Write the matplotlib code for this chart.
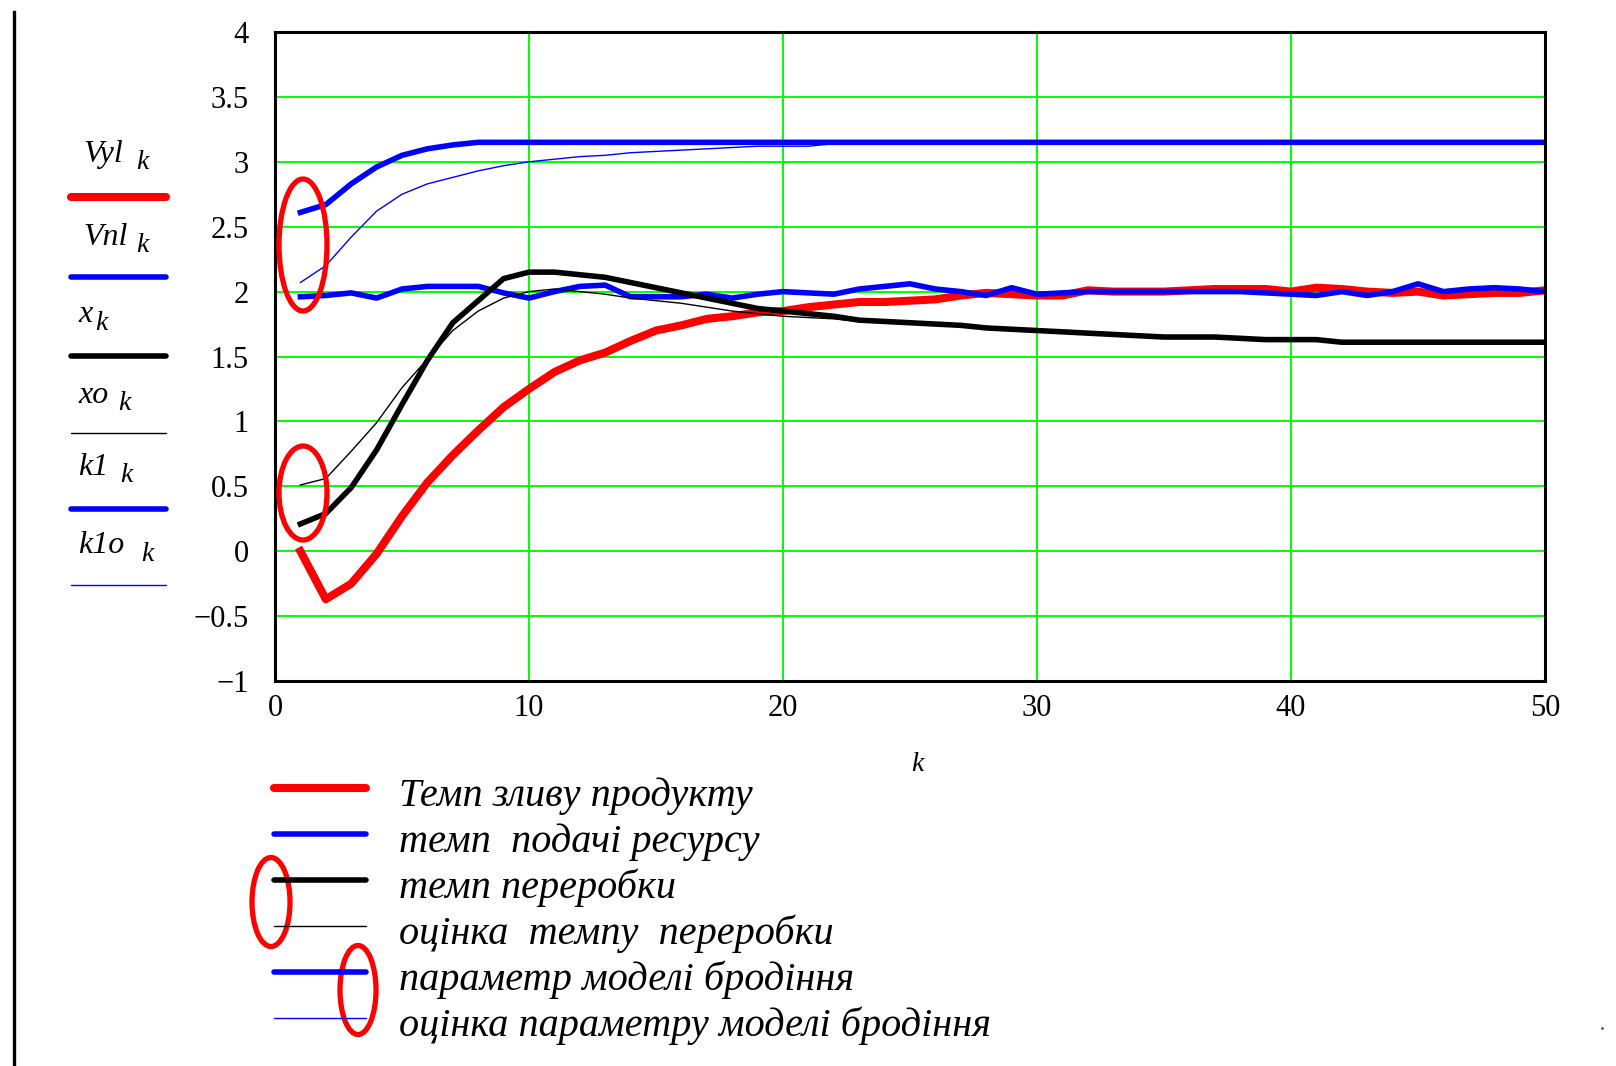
#Mathcad-style chart: product drain rate, resource feed rate, processing rate and fermentation model parameter
#values are read off the reference picture, one value per step k = 1..50
import matplotlib.pyplot as plt
from matplotlib.patches import Ellipse

plt.rcParams['font.family'] = ['Liberation Serif', 'DejaVu Serif']

k = list(range(1, 51))

# Темп зливу продукту
vyl = [0.0, -0.37, -0.25, -0.02, 0.27, 0.53, 0.74, 0.93, 1.11, 1.25,
       1.38, 1.47, 1.53, 1.62, 1.70, 1.74, 1.79, 1.81, 1.84, 1.85,
       1.88, 1.90, 1.92, 1.92, 1.93, 1.94, 1.97, 1.99, 1.98, 1.97,
       1.97, 2.01, 2.00, 2.00, 2.00, 2.01, 2.02, 2.02, 2.02, 2.00,
       2.03, 2.02, 2.00, 1.99, 2.00, 1.97, 1.98, 1.99, 1.99, 2.01]
# темп подачі ресурсу
vnl = [1.96, 1.97, 1.99, 1.95, 2.02, 2.04, 2.04, 2.04, 1.99, 1.95,
       2.00, 2.04, 2.05, 1.96, 1.96, 1.96, 1.98, 1.95, 1.98, 2.00,
       1.99, 1.98, 2.02, 2.04, 2.06, 2.02, 2.00, 1.97, 2.03, 1.98,
       1.99, 2.00, 2.00, 2.00, 2.00, 2.00, 2.00, 2.00, 1.99, 1.98,
       1.97, 2.00, 1.97, 2.00, 2.06, 2.00, 2.02, 2.03, 2.02, 2.00]
# темп переробки
x = [0.21, 0.29, 0.49, 0.78, 1.13, 1.47, 1.76, 1.93, 2.10, 2.15,
     2.15, 2.13, 2.11, 2.07, 2.03, 1.99, 1.95, 1.91, 1.87, 1.85,
     1.83, 1.81, 1.78, 1.77, 1.76, 1.75, 1.74, 1.72, 1.71, 1.70,
     1.69, 1.68, 1.67, 1.66, 1.65, 1.65, 1.65, 1.64, 1.63, 1.63,
     1.63, 1.61, 1.61, 1.61, 1.61, 1.61, 1.61, 1.61, 1.61, 1.61]
# оцінка темпу переробки
xo = [0.51, 0.56, 0.77, 0.99, 1.26, 1.48, 1.70, 1.85, 1.95, 2.00,
      2.02, 2.00, 1.98, 1.95, 1.93, 1.91, 1.88, 1.85, 1.83, 1.81,
      1.80, 1.79, 1.77, 1.76, 1.76, 1.75, 1.74, 1.72, 1.71, 1.70,
      1.69, 1.68, 1.67, 1.66, 1.65, 1.65, 1.65, 1.64, 1.63, 1.63,
      1.63, 1.61, 1.61, 1.61, 1.61, 1.61, 1.61, 1.61, 1.61, 1.61]
# параметр моделі бродіння
k1 = [2.61, 2.67, 2.83, 2.96, 3.05, 3.10, 3.13] + [3.15] * 43
# оцінка параметру моделі бродіння
k1o = [2.07, 2.20, 2.42, 2.62, 2.75, 2.83, 2.88, 2.93, 2.97, 3.00,
       3.02, 3.04, 3.05, 3.07, 3.08, 3.09, 3.10, 3.11, 3.12, 3.12,
       3.12, 3.14, 3.14, 3.14, 3.14, 3.14, 3.14, 3.14] + [3.15] * 22

y_ticks = [-1, -0.5, 0, 0.5, 1, 1.5, 2, 2.5, 3, 3.5, 4]
y_labels = ['\u22121', '\u22120.5', '0', '0.5', '1', '1.5', '2', '2.5', '3', '3.5', '4']
x_ticks = [0, 10, 20, 30, 40, 50]

trace_names = ['Vyl', 'Vnl', 'x', 'xo', 'k1', 'k1o']
legend_text = ['Темп зливу продукту', 'темп  подачі ресурсу', 'темп переробки',
               'оцінка  темпу  переробки', 'параметр моделі бродіння',
               'оцінка параметру моделі бродіння']

# colour, line width for each trace (same order as trace_names)
styles = [('#ff0000', 5.8), ('#0000ff', 4.0), ('black', 4.0),
          ('black', 1.0), ('#0000ff', 4.0), ('#0000ff', 1.0)]
series = [vyl, vnl, x, xo, k1, k1o]
zorders = [2, 3, 4, 3.5, 3, 2.5]

W, H = 1616, 1066
fig = plt.figure(figsize=(W / 100, H / 100), dpi=100)
ax = fig.add_axes([275 / W, 1 - 681 / H, (1545 - 275) / W, (681 - 32) / H])

for s, (c, lw), z in zip(series, styles, zorders):
    ax.plot(k, s, color=c, lw=lw, zorder=z, solid_joinstyle='round')

ax.set_xlim(0, 50)
ax.set_ylim(-1, 4)
ax.set_yticks(y_ticks)
ax.set_yticklabels(y_labels)
ax.set_xticks(x_ticks)
ax.tick_params(length=0, labelsize=22)
ax.tick_params(axis='y', pad=19)
ax.tick_params(axis='x', pad=9)
ax.grid(True, color='#00ff00', lw=1.4)
ax.set_axisbelow(True)
for sp in ax.spines.values():
    sp.set_linewidth(2.2)
    sp.set_zorder(5)

# overlay in pixel coordinates for the Mathcad legends and the red marks
ov = fig.add_axes([0, 0, 1, 1])
ov.set_xlim(0, W)
ov.set_ylim(H, 0)
ov.axis('off')
ov.patch.set_alpha(0)

ov.plot([14, 14], [12, H], color='black', lw=2.4)
ov.plot([1602], [1028], marker='.', color='#555555', ms=2)
ov.text(917, 771, 'k', fontsize=20, style='italic', ha='center')

# left legend: trace name with subscript k, line under it
name_pos = [(83, 162, 136, 169), (83, 245, 136, 252), (78, 322, 95, 330),
            (78, 403, 118, 410), (78, 475, 120, 482), (78, 553, 141, 561)]
line_y = [197, 277, 356, 433, 509, 585]
for nm, (tx, ty, sx, sy), ly, (c, lw) in zip(trace_names, name_pos, line_y, styles):
    ov.text(tx, ty, nm, fontsize=23, style='italic', va='baseline')
    ov.text(sx, sy, 'k', fontsize=20, style='italic', va='baseline')
    ov.plot([71, 166], [ly, ly], color=c, lw=lw, solid_capstyle='round')

# bottom legend
for i, (txt, (c, lw)) in enumerate(zip(legend_text, styles)):
    yy = 788 + 46 * i
    ov.plot([274, 366], [yy, yy], color=c, lw=lw, solid_capstyle='round')
    ov.text(399, yy + 18, txt, fontsize=29, style='italic', va='baseline')

# red hand-drawn marks
for cx, cy, ew, eh in [(303, 245, 48, 132), (303, 493, 48, 94),
                       (271, 902, 38, 89), (358, 990, 36, 89)]:
    ov.add_patch(Ellipse((cx, cy), ew, eh, fill=False, ec='#ff0000', lw=3.8))

fig.savefig('out.png', dpi=100)
